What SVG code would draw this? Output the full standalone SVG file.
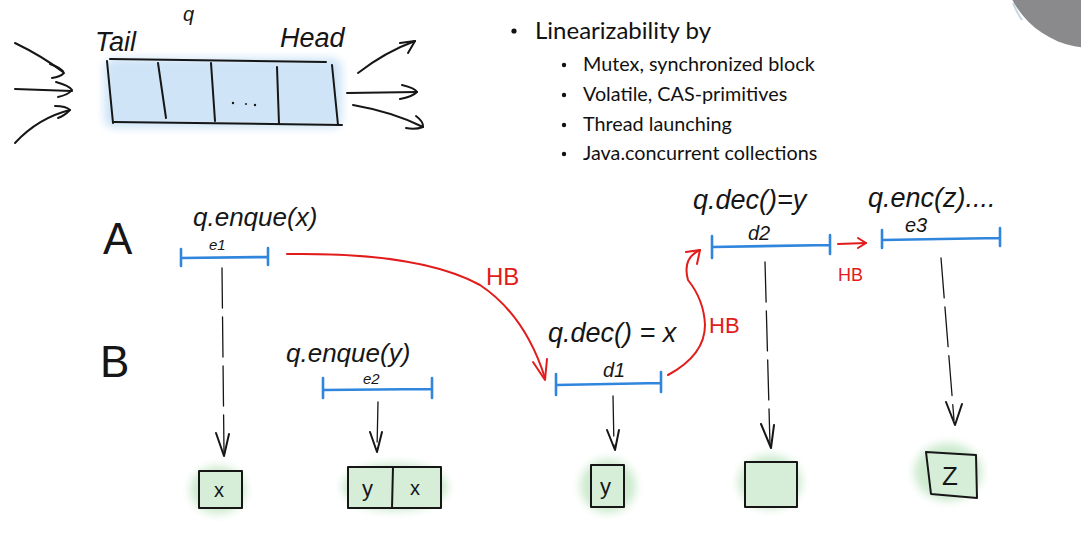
<svg xmlns="http://www.w3.org/2000/svg" width="1081" height="537" viewBox="0 0 1081 537">
<style>
.ink{fill:none;stroke:#161616;stroke-width:2;stroke-linecap:round;stroke-linejoin:round}
.dash{fill:none;stroke:#161616;stroke-width:1.3;stroke-linecap:round;stroke-dasharray:40 9}
.seg{fill:none;stroke:#2f86dc;stroke-width:2.6;stroke-linecap:round}
.red{fill:none;stroke:#e21b1b;stroke-width:2;stroke-linecap:round;stroke-linejoin:round}
.hw{font-family:"Liberation Sans",Arial,sans-serif;font-style:italic;fill:#161616}
.up{font-family:"Liberation Sans",Arial,sans-serif;font-style:normal;fill:#161616}
.hwr{font-family:"Liberation Sans",Arial,sans-serif;fill:#e21b1b}
.sl{font-family:Lato,"Open Sans",sans-serif;fill:#111}
.blob{fill:#cdeacf;filter:url(#soft)}
.box{fill:#d6eed8;stroke:#161616;stroke-width:2;stroke-linejoin:round}
</style>
<defs>
<filter id="soft" x="-30%" y="-30%" width="160%" height="160%"><feGaussianBlur stdDeviation="4"/></filter>
</defs>
<rect width="1081" height="537" fill="#ffffff"/>
<circle cx="1092" cy="-42" r="90" fill="#8a8a8c"/>
<path d="M1013,3 Q1017,13 1022,20" stroke="#8fb0c9" stroke-width="2" fill="none" opacity="0.5"/>

<g id="queue">
<rect x="104" y="58" width="238" height="70" rx="10" fill="#cfe4f7" filter="url(#soft)"/>
<path class="ink" d="M110,59 L326,62"/>
<path class="ink" d="M107,61 L113,123"/>
<path class="ink" d="M113,122 L342,125"/>
<path class="ink" d="M332,65 L338,125"/>
<path class="ink" d="M158,63 L166,118"/>
<path class="ink" d="M211,63 L215,121"/>
<path class="ink" d="M277,67 L279,124"/>
<circle cx="233" cy="103" r="1.2" fill="#161616"/>
<circle cx="246" cy="104" r="1" fill="#161616"/>
<circle cx="255" cy="105" r="1.2" fill="#161616"/>
<text class="hw" x="95" y="51" font-size="27">Tail</text>
<text class="hw" x="280" y="47" font-size="27">Head</text>
<text class="hw" x="183" y="21" font-size="20">q</text>
</g>

<g id="in-arrows">
<path class="ink" d="M15,43 Q42,56 63,72"/>
<path class="ink" d="M50,64 Q62,68 64,73 Q60,77 52,78"/>
<path class="ink" d="M15,89 L72,91"/>
<path class="ink" d="M56,82 Q70,86 72,90 Q68,95 58,97"/>
<path class="ink" d="M15,143 Q38,118 70,110"/>
<path class="ink" d="M55,106 Q66,106 70,110 Q64,116 58,118"/>
</g>
<g id="out-arrows">
<path class="ink" d="M358,73 Q385,52 415,41"/>
<path class="ink" d="M400,43 L415,41 L408,53"/>
<path class="ink" d="M347,93 L417,92"/>
<path class="ink" d="M402,85 Q415,88 417,92 Q412,97 400,99"/>
<path class="ink" d="M353,105 Q393,112 423,127"/>
<path class="ink" d="M416,116 Q424,122 423,127 Q415,130 406,128"/>
</g>

<g id="bullets">
<circle cx="514" cy="31" r="2.6" fill="#111"/>
<text class="sl" x="535" y="39" font-size="24">Linearizability by</text>
<circle cx="564" cy="65" r="2.2" fill="#111"/>
<text class="sl" x="583" y="71" font-size="19.8">Mutex, synchronized block</text>
<circle cx="564" cy="95" r="2.2" fill="#111"/>
<text class="sl" x="583" y="101" font-size="19.8">Volatile, CAS-primitives</text>
<circle cx="564" cy="125" r="2.2" fill="#111"/>
<text class="sl" x="583" y="131" font-size="19.8">Thread launching</text>
<circle cx="564" cy="154" r="2.2" fill="#111"/>
<text class="sl" x="583" y="160" font-size="19.8">Java.concurrent collections</text>
</g>

<g id="threads">
<text class="up" x="103" y="254" font-size="44">A</text>
<text class="up" x="100" y="377" font-size="44">B</text>
</g>

<g id="e1">
<text class="hw" x="193" y="226" font-size="26">q.enque(x)</text>
<text class="hw" x="209" y="250" font-size="15">e1</text>
<path class="seg" d="M181,258 L268,257 M181,249 L181,266 M268,248 L268,265"/>
</g>
<g id="e2">
<text class="hw" x="286" y="362" font-size="26">q.enque(y)</text>
<text class="hw" x="363" y="384" font-size="15">e2</text>
<path class="seg" d="M323,390 L432,389 M323,378 L323,398 M432,378 L432,398"/>
</g>
<g id="d1">
<text class="hw" x="548" y="342" font-size="27">q.dec() = x</text>
<text class="hw" x="603" y="377" font-size="20">d1</text>
<path class="seg" d="M556,385 L661,383 M556,374 L556,395 M661,372 L661,392"/>
</g>
<g id="d2">
<text class="hw" x="693" y="209" font-size="27">q.dec()=y</text>
<text class="hw" x="748" y="240" font-size="20">d2</text>
<path class="seg" d="M712,247 L830,245 M712,236 L712,258 M830,235 L830,254"/>
</g>
<g id="e3">
<text class="hw" x="868" y="207" font-size="27">q.enc(z)....</text>
<text class="hw" x="905" y="232" font-size="20">e3</text>
<path class="seg" d="M882,240 L1000,238 M882,230 L882,248 M1000,228 L1000,246"/>
</g>

<g id="hb">
<text class="hwr" x="486" y="285" font-size="24">HB</text>
<text class="hwr" x="709" y="333" font-size="22">HB</text>
<text class="hwr" x="838" y="281" font-size="18">HB</text>
</g>

<g id="results">
<ellipse class="blob" cx="218" cy="490" rx="28" ry="24"/>
<rect class="box" x="199" y="471" width="43" height="37"/>
<text class="up" x="214" y="497" font-size="20">x</text>
<ellipse class="blob" cx="395" cy="487" rx="53" ry="24"/>
<rect class="box" x="348" y="467" width="93" height="41"/>
<path class="ink" d="M393,467 L392,508"/>
<text class="up" x="362" y="496" font-size="22">y</text>
<text class="up" x="410" y="495" font-size="20">x</text>
<ellipse class="blob" cx="608" cy="486" rx="28" ry="27"/>
<rect class="box" x="591" y="465" width="33" height="42"/>
<text class="up" x="600" y="494" font-size="22">y</text>
<ellipse class="blob" cx="770" cy="482" rx="32" ry="27"/>
<rect class="box" x="745" y="462" width="52" height="45"/>
<ellipse class="blob" cx="948" cy="472" rx="34" ry="29"/>
<path class="box" d="M926,452 L976,455 L977,498 L931,494 Z"/>
<text class="up" x="942" y="485" font-size="26">Z</text>
</g>

<g id="connectors">
<path class="dash" d="M222,268 L224,452"/>
<path class="ink" d="M216,433 L224,456 L229,434"/>
<path class="dash" d="M378,402 L377,449"/>
<path class="ink" d="M370,432 L377,452 L382,432"/>
<path class="dash" d="M613,396 L614,447"/>
<path class="ink" d="M607,430 L615,450 L619,430"/>
<path class="dash" d="M765,262 L770,445"/>
<path class="ink" d="M761,424 L771,448 L774,425"/>
<path class="dash" d="M941,258 L954,420"/>
<path class="ink" d="M946,402 L955,425 L962,404"/>
<path class="red" d="M287,254 Q420,252 480,285 Q525,315 545,378"/>
<path class="red" d="M533,362 L545,380 L547,359"/>
<path class="red" d="M668,375 Q705,355 705,325 Q704,300 688,280 Q682,258 700,250"/>
<path class="red" d="M686,252 L700,250 L697,264"/>
<path class="red" d="M838,244 L866,243"/>
<path class="red" d="M858,238 L866,243 L858,248"/>
</g>
</svg>
